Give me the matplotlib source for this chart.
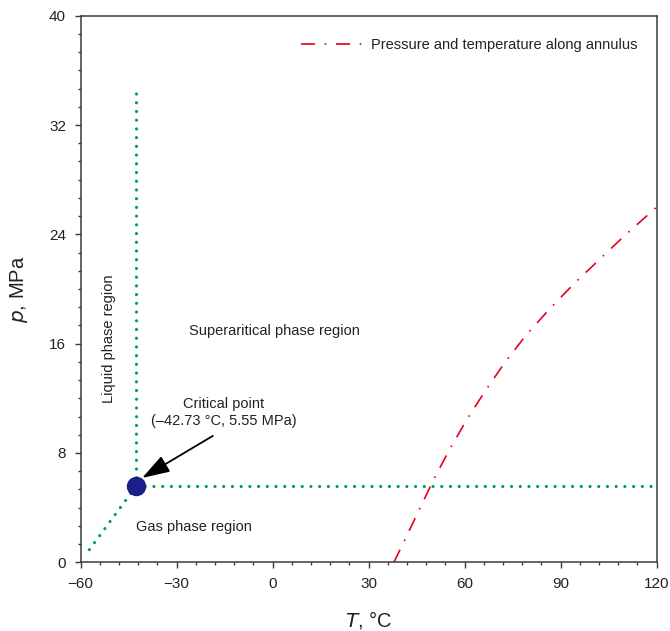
import matplotlib
matplotlib.use("Agg")
import matplotlib.pyplot as plt
from matplotlib.ticker import MultipleLocator

# --- data ---
crit_T = -42.73
crit_p = 5.55

# phase boundaries from the critical point
liquid_T = [-42.73, -42.73]
liquid_p = [5.55, 34.5]
gas_T = [-42.73, 120]
gas_p = [5.55, 5.55]
sat_T = [-42.73, -58.3]
sat_p = [5.55, 0.6]

# pressure / temperature along annulus
annulus_T = [37.9, 41.2, 50.4, 55.4, 60.8, 66.6, 72.5, 79.1, 86.4, 93.8, 101.4, 109.5, 120.0]
annulus_p = [0.0, 1.6, 6.1, 8.3, 10.5, 12.6, 14.6, 16.6, 18.5, 20.3, 22.0, 23.8, 26.0]

x_ticks = [-60, -30, 0, 30, 60, 90, 120]
y_ticks = [0, 8, 16, 24, 32, 40]

GREEN = '#00a04f'
RED = '#e5001f'
NAVY = '#1b2088'
SPINE = '#3a3a3a'

plt.rcParams['font.family'] = ['Liberation Sans', 'DejaVu Sans']
plt.rcParams['axes.unicode_minus'] = True

fig = plt.figure(figsize=(6.70, 6.31), dpi=100)
ax = fig.add_axes([0.1204, 0.1089, 0.8597, 0.8662])

# dotted green boundaries
dot_style = dict(color=GREEN, lw=2.3, linestyle=(0, (0.01, 2.72)), dash_capstyle='round')
ax.plot(liquid_T, liquid_p, **dot_style)
ax.plot(gas_T, gas_p, **dot_style)
ax.plot(sat_T, sat_p, **dot_style)

# annulus line (dash pattern is scaled by lw=1.2)
ax.plot(annulus_T, annulus_p, color=RED, lw=1.2, linestyle=(0, (8.4, 5.8, 1.0, 5.8)),
        label='Pressure and temperature along annulus')

# critical point
ax.plot([crit_T], [crit_p], 'o', ms=13, color=NAVY, zorder=5)

ax.annotate('', xy=(-40.8, 6.17), xytext=(-18.7, 9.25),
            arrowprops=dict(arrowstyle='-|>,head_length=1.7,head_width=0.55',
                            color='black', lw=1.3, shrinkA=0, shrinkB=0,
                            mutation_scale=10))
ax.text(-15.2, 10.97, 'Critical point\n(\u201342.73 \u00b0C, 5.55 MPa)', ha='center', va='center',
        fontsize=10.5, color='#222222', linespacing=1.3)

ax.text(0.4, 16.9, 'Superaritical phase region', ha='center', va='center', fontsize=10.5, color='#222222')
ax.text(-51.2, 16.35, 'Liquid phase region', ha='center', va='center', rotation=90,
        fontsize=10.5, color='#222222')
ax.text(-24.6, 2.6, 'Gas phase region', ha='center', va='center', fontsize=10.5, color='#222222')

ax.set_xlim(-60, 120)
ax.set_ylim(0, 40)
ax.set_xticks(x_ticks)
ax.set_yticks(y_ticks)
ax.xaxis.set_minor_locator(MultipleLocator(6))
ax.yaxis.set_minor_locator(MultipleLocator(4 / 3))

for s in ax.spines.values():
    s.set_color(SPINE)
    s.set_linewidth(1.1)

ax.tick_params(which='both', direction='out', color=SPINE, width=1.0, top=False, right=False)
ax.tick_params(which='major', length=4.5, labelsize=11, pad=6, labelcolor='#222222')
ax.tick_params(which='minor', length=2.2)

ax.set_xlabel('$\\it{T}$, \u00b0C', fontsize=14.5, color='#222222')
ax.set_ylabel('$\\it{p}$, MPa', fontsize=14.5, color='#222222')
ax.xaxis.set_label_coords(0.5, -0.085)
ax.yaxis.set_label_coords(-0.088, 0.5)

ax.legend(loc='upper right', bbox_to_anchor=(0.966, 0.959), frameon=False,
          borderpad=0, borderaxespad=0, handlelength=4.2, handletextpad=0.6,
          fontsize=10.5, labelcolor='#222222')

fig.savefig('out.png', dpi=100)
